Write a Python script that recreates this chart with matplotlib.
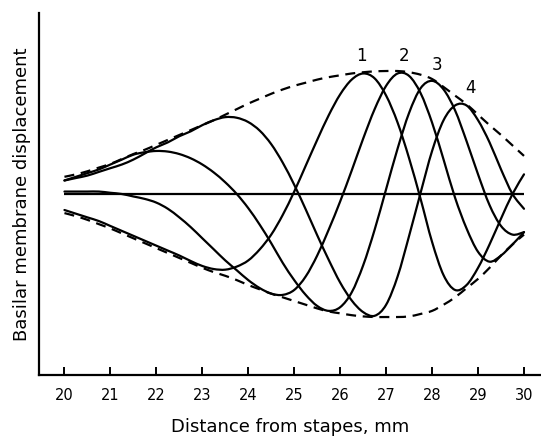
import numpy as np
import matplotlib
matplotlib.use("Agg")
from matplotlib import pyplot as plt
from matplotlib.path import Path
from matplotlib.patches import PathPatch

# distance from stapes (mm), sampled every 0.25 mm
distance = [20.0, 20.25, 20.5, 20.75, 21.0, 21.25, 21.5, 21.75, 22.0, 22.25,
            22.5, 22.75, 23.0, 23.25, 23.5, 23.75, 24.0, 24.25, 24.5, 24.75,
            25.0, 25.25, 25.5, 25.75, 26.0, 26.25, 26.5, 26.75, 27.0, 27.25,
            27.5, 27.75, 28.0, 28.25, 28.5, 28.75, 29.0, 29.25, 29.5, 29.75, 30.0]

# membrane displacement at four successive instants (arbitrary units)
wave_1 = [-0.13, -0.16, -0.19, -0.22, -0.26, -0.30, -0.34, -0.38, -0.42, -0.46,
          -0.50, -0.545, -0.585, -0.61, -0.615, -0.59, -0.54, -0.45, -0.33, -0.17,
          0.02, 0.23, 0.44, 0.64, 0.81, 0.93, 0.98, 0.94, 0.80, 0.58,
          0.29, -0.04, -0.39, -0.66, -0.78, -0.74, -0.60, -0.41, -0.20, 0.0, 0.16]
wave_2 = [0.02, 0.02, 0.02, 0.02, 0.01, 0.0, -0.02, -0.04, -0.07, -0.12,
          -0.19, -0.27, -0.36, -0.45, -0.54, -0.62, -0.70, -0.765, -0.81, -0.82,
          -0.78, -0.67, -0.50, -0.29, -0.06, 0.19, 0.45, 0.69, 0.88, 0.98,
          0.96, 0.82, 0.58, 0.28, -0.03, -0.28, -0.47, -0.55, -0.50, -0.41, -0.31]
wave_3 = [0.11, 0.14, 0.17, 0.20, 0.24, 0.28, 0.32, 0.34, 0.35, 0.345,
          0.325, 0.29, 0.24, 0.175, 0.095, 0.0, -0.115, -0.25, -0.40, -0.56,
          -0.70, -0.82, -0.91, -0.95, -0.92, -0.80, -0.58, -0.29, 0.04, 0.37,
          0.66, 0.86, 0.92, 0.85, 0.68, 0.43, 0.16, -0.09, -0.26, -0.33, -0.31]
wave_4 = [0.11, 0.13, 0.15, 0.18, 0.21, 0.24, 0.28, 0.33, 0.38, 0.42,
          0.47, 0.51, 0.56, 0.60, 0.625, 0.62, 0.585, 0.515, 0.405, 0.255,
          0.075, -0.125, -0.335, -0.535, -0.72, -0.865, -0.96, -0.99, -0.90, -0.67,
          -0.34, 0.01, 0.35, 0.60, 0.72, 0.72, 0.60, 0.42, 0.20, 0.0, -0.12]

envelope_top = [0.14, 0.16, 0.185, 0.215, 0.245, 0.285, 0.325, 0.36, 0.40, 0.44,
                0.48, 0.52, 0.56, 0.60, 0.645, 0.69, 0.735, 0.775, 0.815, 0.85,
                0.88, 0.905, 0.93, 0.95, 0.965, 0.98, 0.99, 0.997, 1.0, 1.0,
                0.99, 0.97, 0.935, 0.87, 0.80, 0.73, 0.645, 0.56, 0.48, 0.395, 0.31]
envelope_bottom = [-0.155, -0.18, -0.21, -0.245, -0.28, -0.32, -0.36, -0.40, -0.44, -0.48,
                   -0.52, -0.56, -0.60, -0.635, -0.665, -0.70, -0.74, -0.775, -0.81, -0.84,
                   -0.87, -0.90, -0.93, -0.955, -0.97, -0.985, -0.995, -1.0, -1.0, -1.0,
                   -0.995, -0.975, -0.95, -0.90, -0.84, -0.765, -0.69, -0.60, -0.50, -0.41, -0.33]

# wave labels and where they sit (above each crest)
wave_names = ["1", "2", "3", "4"]
label_x = [26.47, 27.39, 28.10, 28.84]
label_y = [1.12, 1.12, 1.05, 0.86]

x_ticks = list(range(20, 31))


def smooth_path(xs, ys):
    # Catmull-Rom through the samples, drawn as cubic bezier pieces
    pts = np.column_stack([xs, ys]).astype(float)
    verts = [pts[0]]
    codes = [Path.MOVETO]
    n = len(pts)
    for i in range(n - 1):
        p0 = pts[i - 1] if i > 0 else pts[i]
        p1 = pts[i]
        p2 = pts[i + 1]
        p3 = pts[i + 2] if i + 2 < n else pts[i + 1]
        verts += [p1 + (p2 - p0) / 6.0, p2 - (p3 - p1) / 6.0, p2]
        codes += [Path.CURVE4] * 3
    return Path(verts, codes)


fig = plt.figure(figsize=(5.41, 4.38), dpi=100)
ax = fig.add_axes([0.072, 0.1438, 0.928, 0.8274])

for wave in [wave_1, wave_2, wave_3, wave_4]:
    ax.add_patch(PathPatch(smooth_path(distance, wave), fill=False,
                           edgecolor="black", linewidth=1.6, capstyle="round"))

for env in [envelope_top, envelope_bottom]:
    ax.add_patch(PathPatch(smooth_path(distance, env), fill=False,
                           edgecolor="black", linewidth=1.6,
                           linestyle=(0, (4.5, 3))))

ax.hlines(0, distance[0], distance[-1], color="black", linewidth=1.6)

for name, lx, ly in zip(wave_names, label_x, label_y):
    ax.text(lx, ly, name, fontsize=12, ha="center", va="center")

ax.set_xlim(19.445, 30.37)
ax.set_ylim(-1.4715, 1.4748)

ax.spines["top"].set_visible(False)
ax.spines["right"].set_visible(False)
ax.spines["left"].set_linewidth(1.6)
ax.spines["bottom"].set_linewidth(1.6)

ax.set_xticks(x_ticks)
ax.set_xticklabels([str(t) for t in x_ticks], fontsize=10.5)
ax.tick_params(axis="x", direction="in", length=6, width=1.4, pad=9)
ax.set_yticks([])

ax.set_xlabel("Distance from stapes, mm", fontsize=13, labelpad=11)
ax.set_ylabel("Basilar membrane displacement", fontsize=13, labelpad=6)

fig.savefig("out.png", dpi=100)
